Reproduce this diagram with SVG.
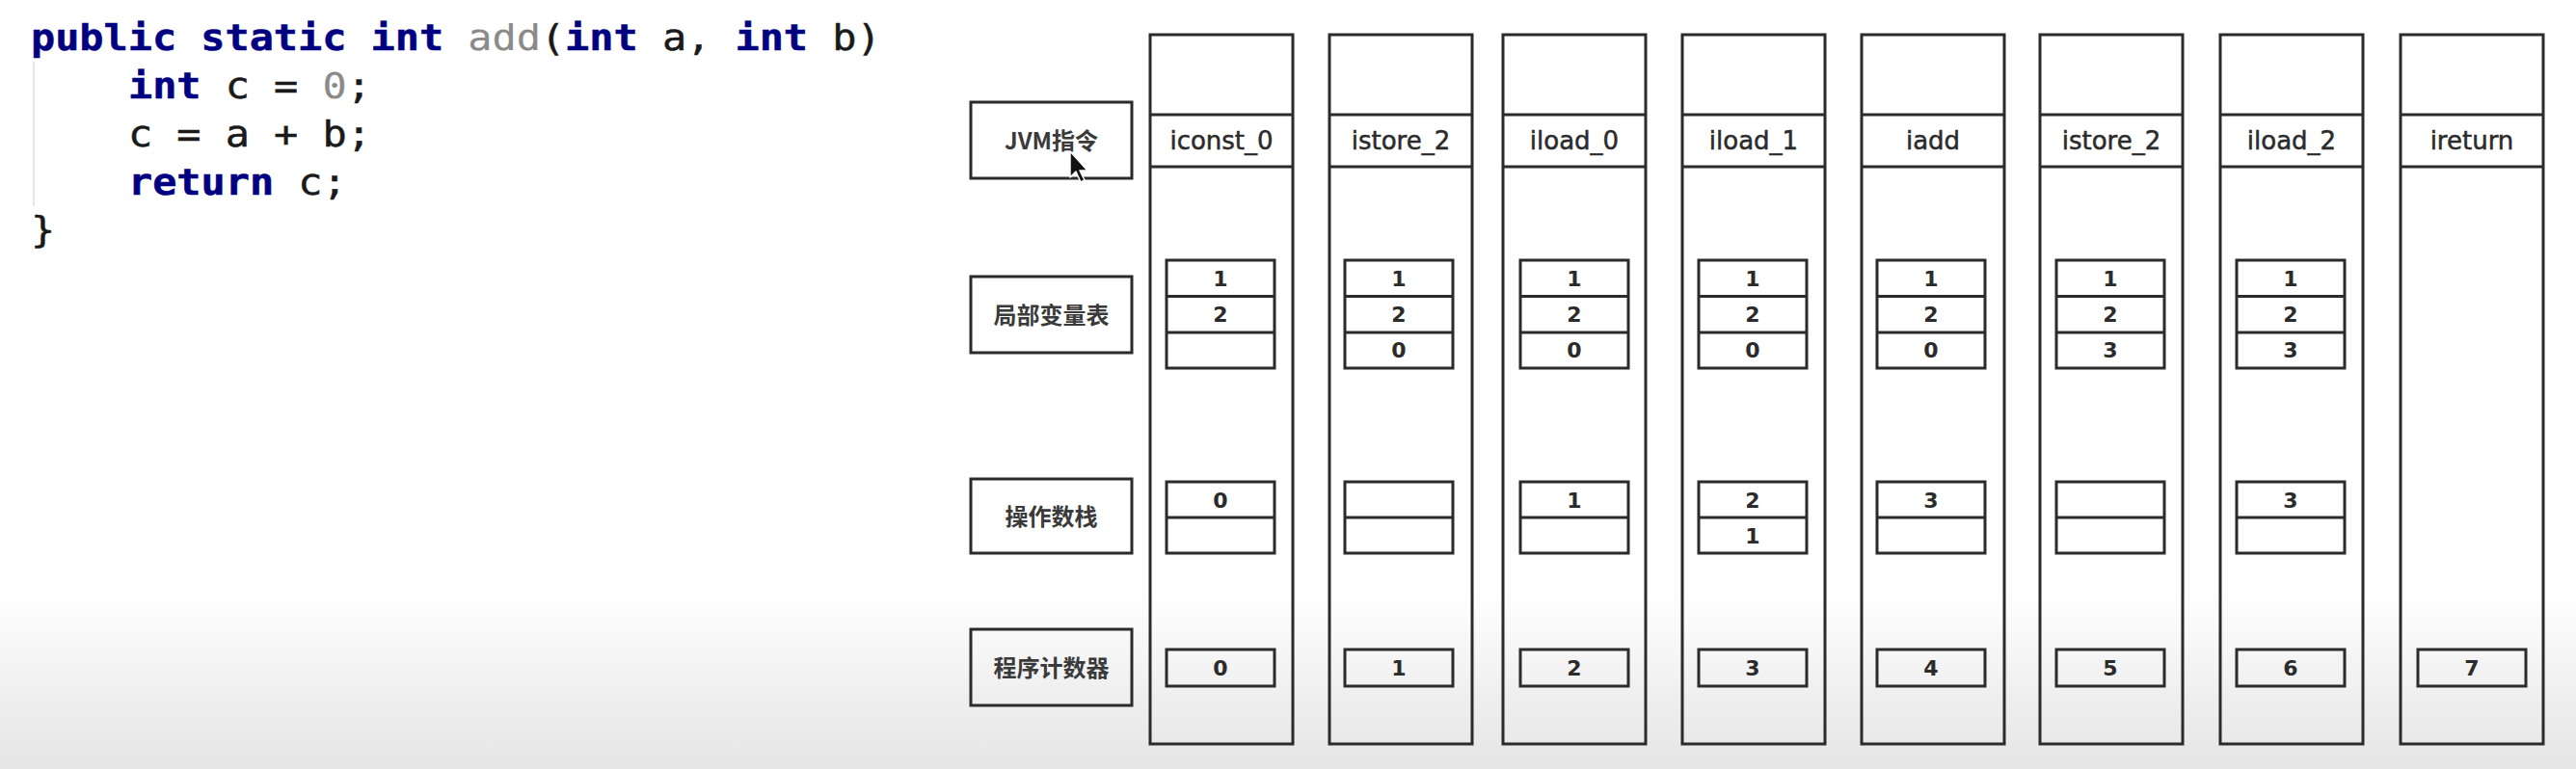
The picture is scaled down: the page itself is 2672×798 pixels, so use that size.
<svg xmlns="http://www.w3.org/2000/svg" width="2672" height="798" viewBox="0 0 2672 798">
<style>
.box{fill:none;stroke:#2b2b2b;stroke-width:3}
.lbl{font-family:"Noto Sans CJK SC","Noto Sans",sans-serif;font-size:24px;font-weight:bold;fill:#3a3a3a;text-anchor:middle}
.ins{font-family:"DejaVu Sans",sans-serif;font-size:26px;fill:#2b2b2b;stroke:#2b2b2b;stroke-width:0.5;text-anchor:middle}
.num{font-family:"DejaVu Sans",sans-serif;font-size:22px;font-weight:bold;fill:#2b2b2b;text-anchor:middle}
.code{font-family:"DejaVu Sans Mono","Liberation Mono",monospace;font-size:37px;fill:#1a1a1a;stroke:#1a1a1a;stroke-width:0.5}
.kw{font-weight:bold;fill:#000080;stroke:#000080}
.gr{fill:#8a8a8a;stroke:#8a8a8a;stroke-width:0.2}
</style>
<defs>
<linearGradient id="bg" x1="0" y1="0" x2="0" y2="1">
<stop offset="0" stop-color="#ffffff"/>
<stop offset="0.77" stop-color="#ffffff"/>
<stop offset="0.93" stop-color="#ececec"/>
<stop offset="1" stop-color="#e6e6e6"/>
</linearGradient>
</defs>
<rect x="0" y="0" width="2672" height="798" fill="url(#bg)"/>

<g id="code">
<line x1="35" y1="64" x2="35" y2="214" stroke="#e6e6e6" stroke-width="2"/>
<g transform="scale(1.131,1)">
<text class="code" x="28.3" y="52" xml:space="preserve"><tspan class="kw">public static int</tspan> <tspan class="gr">add</tspan>(<tspan class="kw">int</tspan> a, <tspan class="kw">int</tspan> b)</text>
<text class="code" x="117.6" y="102" xml:space="preserve"><tspan class="kw">int</tspan> c = <tspan class="gr">0</tspan>;</text>
<text class="code" x="117.6" y="152" xml:space="preserve">c = a + b;</text>
<text class="code" x="117.6" y="202" xml:space="preserve"><tspan class="kw">return</tspan> c;</text>
<text class="code" x="28.3" y="251" xml:space="preserve">}</text>
</g>
</g>

<g id="label-jvm"><rect class="box" x="1007" y="106" width="167" height="79"/><text class="lbl" x="1090.5" y="154.5">JVM指令</text></g>
<g id="label-lv"><rect class="box" x="1007" y="287" width="167" height="79"/><text class="lbl" x="1090.5" y="335.5">局部变量表</text></g>
<g id="label-op"><rect class="box" x="1007" y="497" width="167" height="77"/><text class="lbl" x="1090.5" y="544.5">操作数栈</text></g>
<g id="label-pc"><rect class="box" x="1007" y="653" width="167" height="79"/><text class="lbl" x="1090.5" y="701.5">程序计数器</text></g>

<g id="col1">
<rect class="box" x="1193" y="36" width="148" height="736"/>
<line class="box" x1="1193" y1="119" x2="1341" y2="119"/><line class="box" x1="1193" y1="173" x2="1341" y2="173"/>
<text class="ins" x="1267" y="155">iconst_0</text>
<rect class="box" x="1210" y="270" width="112" height="112"/><line class="box" x1="1210" y1="307.5" x2="1322" y2="307.5"/><line class="box" x1="1210" y1="345" x2="1322" y2="345"/>
<text class="num" x="1266" y="297">1</text><text class="num" x="1266" y="334">2</text>
<rect class="box" x="1210" y="500" width="112" height="74"/><line class="box" x1="1210" y1="537" x2="1322" y2="537"/>
<text class="num" x="1266" y="527">0</text>
<rect class="box" x="1210" y="674" width="112" height="38"/><text class="num" x="1266" y="701">0</text>
</g>

<g id="col2">
<rect class="box" x="1379" y="36" width="148" height="736"/>
<line class="box" x1="1379" y1="119" x2="1527" y2="119"/><line class="box" x1="1379" y1="173" x2="1527" y2="173"/>
<text class="ins" x="1453" y="155">istore_2</text>
<rect class="box" x="1395" y="270" width="112" height="112"/><line class="box" x1="1395" y1="307.5" x2="1507" y2="307.5"/><line class="box" x1="1395" y1="345" x2="1507" y2="345"/>
<text class="num" x="1451" y="297">1</text><text class="num" x="1451" y="334">2</text><text class="num" x="1451" y="371">0</text>
<rect class="box" x="1395" y="500" width="112" height="74"/><line class="box" x1="1395" y1="537" x2="1507" y2="537"/>
<rect class="box" x="1395" y="674" width="112" height="38"/><text class="num" x="1451" y="701">1</text>
</g>

<g id="col3">
<rect class="box" x="1559" y="36" width="148" height="736"/>
<line class="box" x1="1559" y1="119" x2="1707" y2="119"/><line class="box" x1="1559" y1="173" x2="1707" y2="173"/>
<text class="ins" x="1633" y="155">iload_0</text>
<rect class="box" x="1577" y="270" width="112" height="112"/><line class="box" x1="1577" y1="307.5" x2="1689" y2="307.5"/><line class="box" x1="1577" y1="345" x2="1689" y2="345"/>
<text class="num" x="1633" y="297">1</text><text class="num" x="1633" y="334">2</text><text class="num" x="1633" y="371">0</text>
<rect class="box" x="1577" y="500" width="112" height="74"/><line class="box" x1="1577" y1="537" x2="1689" y2="537"/>
<text class="num" x="1633" y="527">1</text>
<rect class="box" x="1577" y="674" width="112" height="38"/><text class="num" x="1633" y="701">2</text>
</g>

<g id="col4">
<rect class="box" x="1745" y="36" width="148" height="736"/>
<line class="box" x1="1745" y1="119" x2="1893" y2="119"/><line class="box" x1="1745" y1="173" x2="1893" y2="173"/>
<text class="ins" x="1819" y="155">iload_1</text>
<rect class="box" x="1762" y="270" width="112" height="112"/><line class="box" x1="1762" y1="307.5" x2="1874" y2="307.5"/><line class="box" x1="1762" y1="345" x2="1874" y2="345"/>
<text class="num" x="1818" y="297">1</text><text class="num" x="1818" y="334">2</text><text class="num" x="1818" y="371">0</text>
<rect class="box" x="1762" y="500" width="112" height="74"/><line class="box" x1="1762" y1="537" x2="1874" y2="537"/>
<text class="num" x="1818" y="527">2</text><text class="num" x="1818" y="564">1</text>
<rect class="box" x="1762" y="674" width="112" height="38"/><text class="num" x="1818" y="701">3</text>
</g>

<g id="col5">
<rect class="box" x="1931" y="36" width="148" height="736"/>
<line class="box" x1="1931" y1="119" x2="2079" y2="119"/><line class="box" x1="1931" y1="173" x2="2079" y2="173"/>
<text class="ins" x="2005" y="155">iadd</text>
<rect class="box" x="1947" y="270" width="112" height="112"/><line class="box" x1="1947" y1="307.5" x2="2059" y2="307.5"/><line class="box" x1="1947" y1="345" x2="2059" y2="345"/>
<text class="num" x="2003" y="297">1</text><text class="num" x="2003" y="334">2</text><text class="num" x="2003" y="371">0</text>
<rect class="box" x="1947" y="500" width="112" height="74"/><line class="box" x1="1947" y1="537" x2="2059" y2="537"/>
<text class="num" x="2003" y="527">3</text>
<rect class="box" x="1947" y="674" width="112" height="38"/><text class="num" x="2003" y="701">4</text>
</g>

<g id="col6">
<rect class="box" x="2116" y="36" width="148" height="736"/>
<line class="box" x1="2116" y1="119" x2="2264" y2="119"/><line class="box" x1="2116" y1="173" x2="2264" y2="173"/>
<text class="ins" x="2190" y="155">istore_2</text>
<rect class="box" x="2133" y="270" width="112" height="112"/><line class="box" x1="2133" y1="307.5" x2="2245" y2="307.5"/><line class="box" x1="2133" y1="345" x2="2245" y2="345"/>
<text class="num" x="2189" y="297">1</text><text class="num" x="2189" y="334">2</text><text class="num" x="2189" y="371">3</text>
<rect class="box" x="2133" y="500" width="112" height="74"/><line class="box" x1="2133" y1="537" x2="2245" y2="537"/>
<rect class="box" x="2133" y="674" width="112" height="38"/><text class="num" x="2189" y="701">5</text>
</g>

<g id="col7">
<rect class="box" x="2303" y="36" width="148" height="736"/>
<line class="box" x1="2303" y1="119" x2="2451" y2="119"/><line class="box" x1="2303" y1="173" x2="2451" y2="173"/>
<text class="ins" x="2377" y="155">iload_2</text>
<rect class="box" x="2320" y="270" width="112" height="112"/><line class="box" x1="2320" y1="307.5" x2="2432" y2="307.5"/><line class="box" x1="2320" y1="345" x2="2432" y2="345"/>
<text class="num" x="2376" y="297">1</text><text class="num" x="2376" y="334">2</text><text class="num" x="2376" y="371">3</text>
<rect class="box" x="2320" y="500" width="112" height="74"/><line class="box" x1="2320" y1="537" x2="2432" y2="537"/>
<text class="num" x="2376" y="527">3</text>
<rect class="box" x="2320" y="674" width="112" height="38"/><text class="num" x="2376" y="701">6</text>
</g>

<g id="col8">
<rect class="box" x="2490" y="36" width="148" height="736"/>
<line class="box" x1="2490" y1="119" x2="2638" y2="119"/><line class="box" x1="2490" y1="173" x2="2638" y2="173"/>
<text class="ins" x="2564" y="155">ireturn</text>
<rect class="box" x="2508" y="674" width="112" height="38"/><text class="num" x="2564" y="701">7</text>
</g>

<g id="connectors"></g>

<g id="cursor">
<polygon points="1110,157 1110,184 1116,178 1121,189 1125,187 1120,177 1128,177" fill="#111" stroke="#fff" stroke-width="1.5" stroke-linejoin="round"/>
</g>
</svg>
